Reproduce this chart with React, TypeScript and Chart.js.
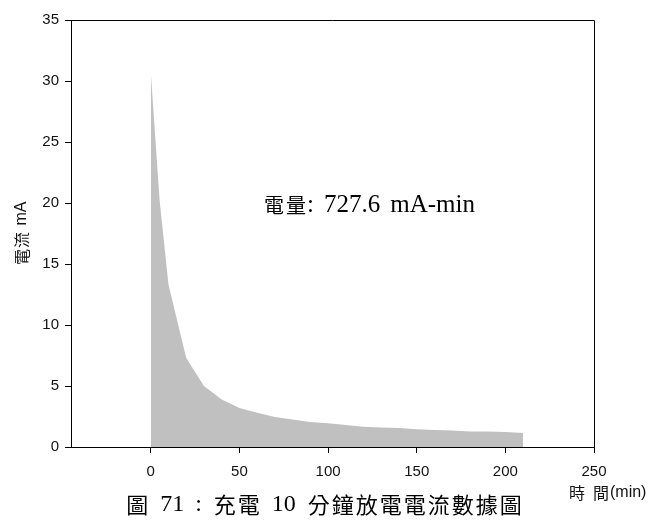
import React, { useEffect, useRef } from 'react';
import { Chart, registerables } from 'chart.js';

Chart.register(...registerables);

// ---- data ----
const timeMin = [0, 5, 10, 20, 30, 40, 50, 60, 70, 80, 90, 100, 110, 120, 130, 140, 150, 160, 170, 180, 190, 200, 210];
const currentMA = [30.7, 20.2, 13.3, 7.3, 5.0, 3.9, 3.2, 2.8, 2.45, 2.25, 2.05, 1.95, 1.8, 1.65, 1.6, 1.55, 1.45, 1.4, 1.35, 1.28, 1.27, 1.22, 1.15];
const xTickValues = [0, 50, 100, 150, 200, 250];
const yTickValues = [0, 5, 10, 15, 20, 25, 30, 35];
const xRange = [-45, 250];
const yRange = [0, 35];
const annotationText = '電量: 727.6 mA-min';
const captionText = '圖 71 : 充電 10 分鐘放電電流數據圖';
const xTitleText = '時 間(min)';
const yTitleText = '電流 mA';

const SANS = '"Liberation Sans", Arial, "Noto Sans CJK TC", sans-serif';
const SERIF = '"Liberation Serif", "Times New Roman", serif';
const CJK = '"Noto Sans CJK TC", "Noto Sans CJK SC", sans-serif';

type MixOpts = { cjkFont: string; cjkAdv: number; latinFont: string; spaceW: number; align: 'left' | 'center' };

function isCJK(c: string) {
  return c.charCodeAt(0) >= 0x2e80;
}

function drawMixed(ctx: CanvasRenderingContext2D, text: string, x: number, y: number, o: MixOpts) {
  const chars = Array.from(text);
  const widths = chars.map((c) => {
    if (c === ' ') return o.spaceW;
    if (isCJK(c)) return o.cjkAdv;
    ctx.font = o.latinFont;
    return ctx.measureText(c).width;
  });
  const total = widths.reduce((a, b) => a + b, 0);
  let cx = o.align === 'center' ? x - total / 2 : x;
  chars.forEach((c, i) => {
    if (c !== ' ') {
      if (isCJK(c)) {
        ctx.font = o.cjkFont;
        ctx.textAlign = 'center';
        ctx.fillText(c, cx + widths[i] / 2, y);
      } else {
        ctx.font = o.latinFont;
        ctx.textAlign = 'left';
        ctx.fillText(c, cx, y);
      }
    }
    cx += widths[i];
  });
}

const decorPlugin = {
  id: 'decor',
  afterDraw(chart: any) {
    const { ctx, chartArea } = chart;
    const { left, right, top, bottom } = chartArea;
    ctx.save();
    // top and right frame lines
    ctx.strokeStyle = '#000';
    ctx.lineWidth = 1;
    ctx.beginPath();
    ctx.moveTo(left, Math.round(top) + 0.5);
    ctx.lineTo(Math.round(right) + 0.5, Math.round(top) + 0.5);
    ctx.lineTo(Math.round(right) + 0.5, bottom);
    ctx.stroke();

    ctx.fillStyle = '#000';
    ctx.textBaseline = 'middle';
    // annotation
    drawMixed(ctx, annotationText, left + 192, top + 185, {
      cjkFont: `20px ${CJK}`,
      cjkAdv: 22,
      latinFont: `25px ${SERIF}`,
      spaceW: 10,
      align: 'left',
    });

    // caption
    drawMixed(ctx, captionText, 324, 505, {
      cjkFont: `22px ${CJK}`,
      cjkAdv: 24,
      latinFont: `24px ${SERIF}`,
      spaceW: 11,
      align: 'center',
    });

    // x title
    ctx.fillStyle = '#111';
    drawMixed(ctx, xTitleText, 568, 493, {
      cjkFont: `16px ${CJK}`,
      cjkAdv: 18,
      latinFont: `16px ${SANS}`,
      spaceW: 6,
      align: 'left',
    });

    // y title
    ctx.translate(22, (top + bottom) / 2);
    ctx.rotate(-Math.PI / 2);
    drawMixed(ctx, yTitleText, 0, 0, {
      cjkFont: `16px ${CJK}`,
      cjkAdv: 17,
      latinFont: `16px ${SANS}`,
      spaceW: 6,
      align: 'center',
    });
    ctx.restore();
  },
};

export default function App() {
  const ref = useRef<HTMLCanvasElement | null>(null);

  useEffect(() => {
    if (!ref.current) return;
    const points = timeMin.map((t, i) => ({ x: t, y: currentMA[i] }));
    const chart = new Chart(ref.current, {
      type: 'line',
      data: {
        datasets: [
          {
            data: points,
            fill: 'origin',
            backgroundColor: '#C0C0C0',
            borderColor: '#C0C0C0',
            borderWidth: 0,
            pointRadius: 0,
            tension: 0,
          },
        ],
      },
      options: {
        animation: false,
        responsive: false,
        maintainAspectRatio: false,
        layout: { padding: { top: 20, right: 61, left: 0, bottom: 0 } },
        plugins: {
          legend: { display: false },
          tooltip: { enabled: false },
          title: { display: false },
        },
        scales: {
          x: {
            type: 'linear',
            min: xRange[0],
            max: xRange[1],
            afterBuildTicks: (scale: any) => {
              scale.ticks = xTickValues.map((v) => ({ value: v }));
            },
            afterFit: (scale: any) => {
              scale.height = 79;
            },
            grid: {
              display: true,
              drawOnChartArea: false,
              drawTicks: true,
              tickLength: 6,
              color: '#000',
            },
            border: { display: true, color: '#000', width: 1 },
            ticks: {
              padding: 10,
              color: '#111',
              font: { family: SANS, size: 15 },
              maxRotation: 0,
            },
          },
          y: {
            type: 'linear',
            min: yRange[0],
            max: yRange[1],
            afterBuildTicks: (scale: any) => {
              scale.ticks = yTickValues.map((v) => ({ value: v }));
            },
            afterFit: (scale: any) => {
              scale.width = 71;
            },
            grid: {
              display: true,
              drawOnChartArea: false,
              drawTicks: true,
              tickLength: 6,
              color: '#000',
            },
            border: { display: true, color: '#000', width: 1 },
            ticks: {
              padding: 6,
              color: '#111',
              font: { family: SANS, size: 15 },
            },
          },
        },
      },
      plugins: [decorPlugin],
    });
    return () => chart.destroy();
  }, []);

  return (
    <div style={{ position: 'absolute', left: 0, top: 0, width: 655, height: 526, background: '#fff' }}>
      <canvas ref={ref} width={655} height={526} style={{ display: 'block' }} />
    </div>
  );
}
